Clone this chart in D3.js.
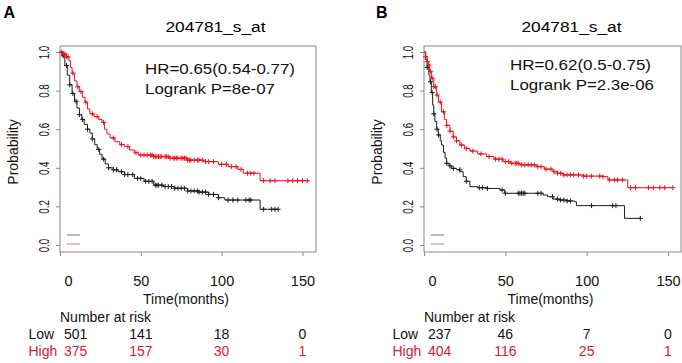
<!DOCTYPE html>
<html>
<head>
<meta charset="utf-8">
<script src="https://cdn.jsdelivr.net/npm/d3@7"></script>
<style>
  body { margin: 0; background: #fff; }
  svg { font-family: "Liberation Sans", Arial, sans-serif; display: block; }
</style>
</head>
<body>
<div id="chart"></div>
<script>
// ---- data ----
const xTicks = [0, 50, 100, 150];
const yTicks = [0, 0.2, 0.4, 0.6, 0.8, 1.0];
const probeTitle = "204781_s_at";

// panel A
const lowCurveA = [[0,1],[1.5,0.98],[3,0.93],[4.5,0.88],[6,0.83],[7.5,0.785],[9,0.745],[10.5,0.71],[12,0.675],[13.5,0.65],[15,0.625],[17,0.6],[18.5,0.58],[20,0.55],[21.5,0.52],[23,0.495],[24.5,0.47],[26,0.445],[28,0.42],[30,0.4],[33,0.39],[36,0.38],[40,0.365],[46,0.345],[52,0.33],[58,0.31],[64,0.303],[71,0.294],[79,0.28],[86,0.274],[92,0.262],[98,0.245],[102,0.233],[123.8,0.185]];
const lowEndA = 135;
const lowCensorA = [2,4,6,8,10,12,14,17,20,24,27,30,33,35,38,40,42,45,48,50,53,55,57,59,60,61,63,65,67,69,71,73,75,77,79,81,83,85,86,88,90,92,95,98,104,107,110,115,117,118,126,131,133,135];
const highCurveA = [[0,1],[2,0.99],[4,0.975],[5.5,0.955],[6.5,0.92],[7.5,0.89],[9,0.85],[10.5,0.82],[12,0.795],[14,0.765],[15.5,0.74],[17,0.705],[18.5,0.68],[21,0.665],[24,0.65],[26,0.635],[27.5,0.6],[29,0.575],[31,0.555],[34,0.535],[37,0.52],[40,0.51],[43,0.492],[46,0.478],[48.5,0.466],[58,0.458],[68,0.45],[79,0.44],[89,0.432],[98,0.418],[104,0.406],[110,0.392],[113.4,0.372],[123.8,0.333]];
const highEndA = 153.7;
const highCensorA = [1,2,3,4,5,8,11,13,16,20,23,27,33,38,42,47,50,52,54,56,57,58,59,60,61,62,63,65,66,67,68,70,71,72,73,75,76,77,78,79,80,81,83,85,86,88,90,92,95,100,103,106,109,112,116,118,120,126,130,133,141,144,147,150,153];
const hrTextA = ["HR=0.65(0.54-0.77)", "Logrank P=8e-07"];
const riskLowA = [501, 141, 18, 0];
const riskHighA = [375, 157, 30, 1];

// panel B
const lowCurveB = [[0,1],[1,0.96],[2,0.92],[3,0.88],[3.7,0.846],[4.5,0.79],[5.3,0.725],[6,0.68],[6.7,0.64],[7.8,0.6],[8.8,0.57],[10,0.54],[10.8,0.518],[12,0.48],[13,0.45],[13.9,0.423],[15.5,0.41],[17,0.397],[20,0.39],[22.1,0.38],[24.1,0.354],[26,0.33],[28.2,0.302],[33,0.297],[38.5,0.293],[46.6,0.285],[49.7,0.268],[73.2,0.259],[76,0.25],[79.3,0.238],[83.4,0.233],[88,0.228],[92.6,0.224],[93.7,0.204],[123.3,0.138]];
const lowEndB = 132.5;
const lowCensorB = [2,4,5,6,8,9,14,16,18,22,26,34,36,39,48,50,58,59,60,61,62,70,72,79,82,84,86,88,90,103,116,118,133];
const highCurveB = [[0,1],[1,0.975],[2,0.95],[2.6,0.933],[3.5,0.9],[4.7,0.864],[6,0.82],[7.8,0.777],[9,0.74],[10.8,0.69],[12.5,0.65],[13.9,0.62],[16,0.59],[18,0.56],[20,0.54],[22.1,0.518],[25,0.5],[28.2,0.487],[33,0.472],[38.5,0.458],[43,0.445],[48.7,0.432],[53,0.423],[58.9,0.415],[69.1,0.406],[74,0.393],[79.3,0.38],[82,0.372],[85.5,0.363],[97.7,0.357],[110,0.354],[113.1,0.337],[125.3,0.297]];
const highEndB = 153;
const highCensorB = [1,2,3,4,5,6,7,8,10,12,14,16,18,20,23,26,30,35,40,44,46,48,50,52,54,56,57,58,60,62,64,66,68,70,72,75,78,80,82,84,86,88,90,92,95,98,100,103,108,110,114,117,119,122,127,130,138,141,145,148,153];
const hrTextB = ["HR=0.62(0.5-0.75)", "Logrank P=2.3e-06"];
const riskLowB = [237, 46, 7, 0];
const riskHighB = [404, 116, 25, 1];

// ---- drawing ----
const W = 682, H = 363;
const black = "#1c1c1c", red = "#e8141c", textRed = "#d01c33", axisGrey = "#888";

const svg = d3.select("#chart").append("svg")
  .attr("width", W).attr("height", H);

function stepValue(curve, t) {
  let v = curve[0][1];
  curve.forEach(function(p) { if (p[0] <= t) v = p[1]; });
  return v;
}

function drawPanel(o) {
  const g = svg.append("g");
  const x = d3.scaleLinear().domain([0, o.xMax]).range([o.left, o.right]);
  const y = d3.scaleLinear().domain([0, 1]).range([245, 52]);

  // panel letter + title
  g.append("text").attr("x", o.letterX).attr("y", 17.5)
    .attr("font-size", 16).attr("font-weight", "bold").text(o.letter);
  g.append("text").attr("x", o.titleX).attr("y", 32)
    .attr("font-size", 15.5).attr("text-anchor", "middle")
    .attr("textLength", 100).attr("lengthAdjust", "spacingAndGlyphs")
    .text(probeTitle);

  // box
  g.append("rect").attr("x", o.left).attr("y", 46)
    .attr("width", o.right - o.left).attr("height", 206)
    .attr("fill", "none").attr("stroke", axisGrey).attr("stroke-width", 1);

  // y axis
  const ya = g.append("g").attr("transform", "translate(" + o.left + ",0)")
    .call(d3.axisLeft(y).tickValues(yTicks).tickSize(4).tickFormat(d3.format(".1f")));
  ya.select(".domain").remove();
  ya.selectAll("line").attr("stroke", axisGrey);
  ya.selectAll("text")
    .attr("transform", "rotate(-90)")
    .attr("x", 0).attr("y", -16).attr("dy", "0.35em")
    .attr("text-anchor", "middle")
    .attr("font-size", 14).attr("fill", "#111")
    .attr("textLength", 13.5).attr("lengthAdjust", "spacingAndGlyphs");

  g.append("text")
    .attr("transform", "translate(" + o.yTitleX + ",152) rotate(-90)")
    .attr("text-anchor", "middle").attr("dy", "0.35em")
    .attr("font-size", 14).attr("fill", "#111").text("Probability");

  // x axis
  const xa = g.append("g").attr("transform", "translate(0,252)")
    .call(d3.axisBottom(x).tickValues(xTicks).tickSize(4).tickSizeOuter(0));
  xa.select(".domain").remove();
  xa.selectAll("line").attr("stroke", axisGrey);
  xa.selectAll("text")
    .attr("y", 34).attr("dy", 0)
    .attr("font-size", 14.5).attr("fill", "#111")
    .attr("dx", function(d) { return d === 0 ? 8 : 0; });

  g.append("text").attr("x", (o.left + o.right) / 2 - 2).attr("y", 304)
    .attr("text-anchor", "middle").attr("font-size", 14).attr("fill", "#111")
    .text("Time(months)");

  // HR / logrank text
  g.append("text").attr("x", o.hrX).attr("y", o.hrY[0])
    .attr("font-size", 15.5).attr("fill", "#111")
    .attr("textLength", o.hrLen[0]).attr("lengthAdjust", "spacingAndGlyphs")
    .text(o.hr[0]);
  g.append("text").attr("x", o.hrX).attr("y", o.hrY[1])
    .attr("font-size", 15.5).attr("fill", "#111")
    .attr("textLength", o.hrLen[1]).attr("lengthAdjust", "spacingAndGlyphs")
    .text(o.hr[1]);

  // survival curves
  const line = d3.line()
    .x(function(d) { return x(d[0]); })
    .y(function(d) { return y(d[1]); })
    .curve(d3.curveStepAfter);

  const series = [
    { curve: o.low, end: o.lowEnd, censor: o.lowCensor, color: black },
    { curve: o.high, end: o.highEnd, censor: o.highCensor, color: red }
  ];
  series.forEach(function(s) {
    const pts = s.curve.concat([[s.end, s.curve[s.curve.length - 1][1]]]);
    g.append("path").attr("d", line(pts))
      .attr("fill", "none").attr("stroke", s.color).attr("stroke-width", 1);
    g.selectAll(null).data(s.censor).enter().append("path")
      .attr("transform", function(t) {
        return "translate(" + x(t) + "," + y(stepValue(s.curve, t)) + ")";
      })
      .attr("d", "M-2.5,0H2.5M0,-2.5V2.5")
      .attr("stroke", s.color).attr("stroke-width", 1);
  });

  // tiny legend strokes
  g.append("line").attr("x1", o.left + 7).attr("x2", o.left + 20)
    .attr("y1", 235).attr("y2", 235).attr("stroke", "#777");
  g.append("line").attr("x1", o.left + 7).attr("x2", o.left + 20)
    .attr("y1", 244).attr("y2", 244).attr("stroke", "#ea6a6a");

  // number at risk table
  g.append("text").attr("x", o.left).attr("y", 322)
    .attr("font-size", 14).attr("fill", "#111").text("Number at risk");
  const rows = [
    { label: "Low", vals: o.riskLow, color: "#111", yy: 339 },
    { label: "High", vals: o.riskHigh, color: textRed, yy: 356 }
  ];
  rows.forEach(function(r) {
    g.append("text").attr("x", o.left - 31.5).attr("y", r.yy)
      .attr("font-size", 14).attr("fill", r.color).text(r.label);
    g.selectAll(null).data(r.vals).enter().append("text")
      .attr("x", function(v, i) { return i === 0 ? x(xTicks[i]) + 4 : x(xTicks[i]); })
      .attr("y", r.yy)
      .attr("text-anchor", function(v, i) { return i === 0 ? "start" : "middle"; })
      .attr("font-size", 14).attr("fill", r.color)
      .text(function(v) { return v; });
  });
}

drawPanel({
  letter: "A", letterX: 3.5, titleX: 215.5, left: 60, right: 316, xMax: 158.4,
  yTitleX: 13, hrX: 145, hrY: [73.5, 93.5], hrLen: [150, 130], hr: hrTextA,
  low: lowCurveA, lowEnd: lowEndA, lowCensor: lowCensorA,
  high: highCurveA, highEnd: highEndA, highCensor: highCensorA,
  riskLow: riskLowA, riskHigh: riskHighA
});
drawPanel({
  letter: "B", letterX: 376, titleX: 571.5, left: 424, right: 681, xMax: 158,
  yTitleX: 377.5, hrX: 510, hrY: [70, 90], hrLen: [141, 144], hr: hrTextB,
  low: lowCurveB, lowEnd: lowEndB, lowCensor: lowCensorB,
  high: highCurveB, highEnd: highEndB, highCensor: highCensorB,
  riskLow: riskLowB, riskHigh: riskHighB
});
</script>
</body>
</html>
